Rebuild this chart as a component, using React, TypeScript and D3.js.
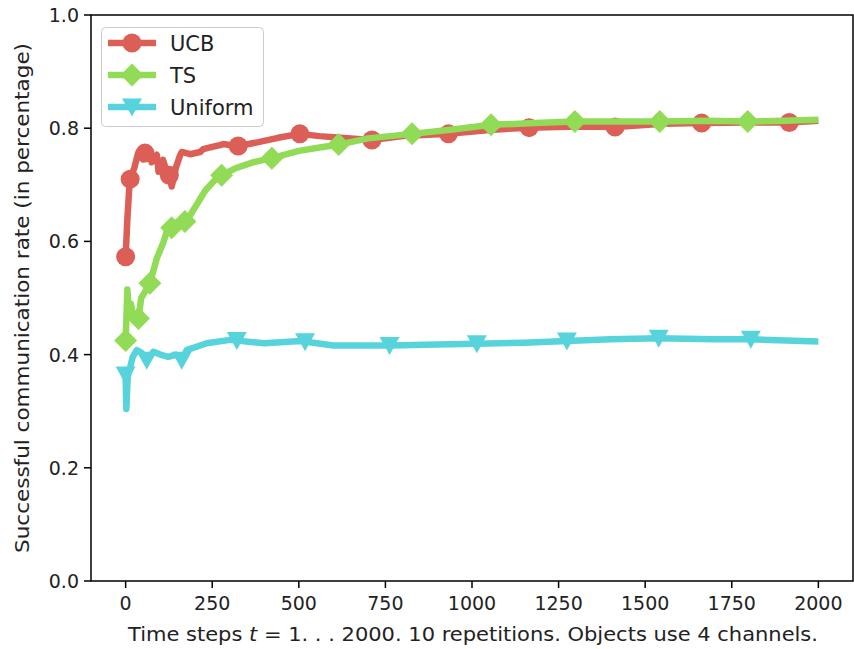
import React, { useEffect, useRef } from 'react';
import * as d3 from 'd3';

// time steps and mean success rate
const ucbSteps = [0, 5, 10, 13, 25, 36, 42, 50, 56, 61, 70, 75, 90, 95, 108, 120, 126, 133, 145, 157, 162, 186, 215, 224, 244, 272, 282, 321, 380, 440, 503, 560, 620, 711, 800, 932, 1050, 1165, 1300, 1413, 1550, 1663, 1800, 1916, 2000];
const ucbRate = [0.573, 0.64, 0.69, 0.71, 0.73, 0.756, 0.761, 0.745, 0.756, 0.758, 0.761, 0.74, 0.753, 0.723, 0.744, 0.72, 0.717, 0.697, 0.73, 0.752, 0.758, 0.754, 0.758, 0.763, 0.766, 0.77, 0.772, 0.768, 0.775, 0.783, 0.79, 0.786, 0.783, 0.779, 0.786, 0.79, 0.797, 0.801, 0.803, 0.802, 0.808, 0.809, 0.81, 0.81, 0.813];
const ucbMarks = [0, 13, 56, 126, 325, 503, 711, 932, 1165, 1413, 1663, 1916];

const tsSteps = [0, 5, 10, 15, 22, 30, 37, 45, 55, 70, 90, 110, 120, 133, 150, 171, 185, 200, 230, 260, 277, 320, 370, 422, 500, 560, 615, 700, 827, 950, 1055, 1180, 1297, 1420, 1542, 1680, 1796, 1900, 2000];
const tsRate = [0.425, 0.515, 0.47, 0.49, 0.465, 0.47, 0.464, 0.5, 0.51, 0.526, 0.57, 0.6, 0.62, 0.624, 0.63, 0.635, 0.645, 0.66, 0.69, 0.71, 0.717, 0.73, 0.74, 0.747, 0.76, 0.766, 0.771, 0.782, 0.79, 0.798, 0.806, 0.809, 0.812, 0.812, 0.812, 0.813, 0.812, 0.813, 0.815];
const tsMarks = [0, 37, 70, 133, 171, 277, 422, 615, 827, 1055, 1297, 1542, 1796];

const uniSteps = [0, 2, 6, 12, 20, 32, 46, 61, 80, 100, 123, 145, 162, 176, 234, 301, 400, 505, 600, 700, 762, 900, 1014, 1150, 1274, 1400, 1539, 1700, 1805, 2000];
const uniRate = [0.364, 0.304, 0.36, 0.375, 0.395, 0.408, 0.403, 0.39, 0.405, 0.4, 0.396, 0.4, 0.39, 0.408, 0.42, 0.426, 0.42, 0.424, 0.416, 0.416, 0.416, 0.418, 0.419, 0.421, 0.424, 0.427, 0.429, 0.427, 0.427, 0.423];
const uniMarks = [0, 61, 162, 321, 518, 762, 1014, 1274, 1539, 1805];

const xTicks = [0, 250, 500, 750, 1000, 1250, 1500, 1750, 2000];
const yTicks = [0, 0.2, 0.4, 0.6, 0.8, 1.0];

const W = 854;
const H = 649;
const margin = { left: 91, right: 1, top: 15, bottom: 68 };
const FONT = 'DejaVu Sans, sans-serif';
const FS = 20;

// marker shapes, centred on 0,0
const circle = 'M9.5,0A9.5,9.5 0 1,1 -9.5,0A9.5,9.5 0 1,1 9.5,0Z';
const diamond = 'M0,-11.5L11.5,0L0,11.5L-11.5,0Z';
const triDown = 'M0,9.5L-10,-8.5L10,-8.5Z';

const App = () => {
  const svgRef = useRef(null);

  useEffect(() => {
    const svg = d3.select(svgRef.current);
    svg.selectAll('*').remove();

    const x = d3.scaleLinear().domain([-100, 2100]).range([margin.left, W - margin.right]);
    const y = d3.scaleLinear().domain([0, 1]).range([H - margin.bottom, margin.top]);

    const series = [
      { name: 'UCB', steps: ucbSteps, rate: ucbRate, marks: ucbMarks, color: '#db5f57', shape: circle },
      { name: 'TS', steps: tsSteps, rate: tsRate, marks: tsMarks, color: '#91db57', shape: diamond },
      { name: 'Uniform', steps: uniSteps, rate: uniRate, marks: uniMarks, color: '#57d3db', shape: triDown },
    ];

    const line = d3
      .line()
      .x((d) => x(d[0]))
      .y((d) => y(d[1]));

    series.forEach((s) => {
      const pts = s.steps.map((t, i) => [t, s.rate[i]]);
      const interp = d3.scaleLinear().domain(s.steps).range(s.rate);
      svg
        .append('path')
        .attr('d', line(pts))
        .attr('fill', 'none')
        .attr('stroke', s.color)
        .attr('stroke-width', 6.5)
        .attr('stroke-linejoin', 'round');
      svg
        .selectAll(null)
        .data(s.marks)
        .enter()
        .append('path')
        .attr('d', s.shape)
        .attr('transform', (t) => `translate(${x(t)},${y(interp(t))})`)
        .attr('fill', s.color);
    });

    // frame
    const x0 = margin.left;
    const x1 = W - margin.right;
    const y0 = H - margin.bottom;
    const y1 = margin.top;
    svg
      .append('rect')
      .attr('x', x0)
      .attr('y', y1)
      .attr('width', x1 - x0)
      .attr('height', y0 - y1)
      .attr('fill', 'none')
      .attr('stroke', '#000')
      .attr('stroke-width', 1.5);

    // x ticks
    xTicks.forEach((t) => {
      svg.append('line').attr('x1', x(t)).attr('x2', x(t)).attr('y1', y0).attr('y2', y0 + 7).attr('stroke', '#000').attr('stroke-width', 1.5);
      svg
        .append('text')
        .attr('x', x(t))
        .attr('y', y0 + 29)
        .attr('text-anchor', 'middle')
        .attr('font-family', FONT)
        .attr('font-size', FS - 1)
        .attr('fill', '#222')
        .text(t);
    });

    // y ticks
    yTicks.forEach((v) => {
      svg.append('line').attr('x1', x0 - 7).attr('x2', x0).attr('y1', y(v)).attr('y2', y(v)).attr('stroke', '#000').attr('stroke-width', 1.5);
      svg
        .append('text')
        .attr('x', x0 - 12)
        .attr('y', y(v) + 7)
        .attr('text-anchor', 'end')
        .attr('font-family', FONT)
        .attr('font-size', FS - 1)
        .attr('fill', '#222')
        .text(v.toFixed(1));
    });

    // axis labels
    const xl = svg
      .append('text')
      .attr('x', 128)
      .attr('y', 641)
      .attr('textLength', 690)
      .attr('lengthAdjust', 'spacingAndGlyphs')
      .attr('font-family', FONT)
      .attr('font-size', FS)
      .attr('fill', '#222');
    xl.append('tspan').text('Time steps ');
    xl.append('tspan').attr('font-style', 'italic').text('t');
    xl.append('tspan').text(' = 1. . . 2000. 10 repetitions. Objects use 4 channels.');

    svg
      .append('text')
      .attr('transform', `translate(29,${(y0 + y1) / 2}) rotate(-90)`)
      .attr('text-anchor', 'middle')
      .attr('textLength', 510)
      .attr('lengthAdjust', 'spacingAndGlyphs')
      .attr('font-family', FONT)
      .attr('font-size', FS)
      .attr('fill', '#222')
      .text('Successful communication rate (in percentage)');

    // legend
    const lg = svg.append('g');
    lg.append('rect')
      .attr('x', 101.5)
      .attr('y', 27.5)
      .attr('width', 162)
      .attr('height', 99)
      .attr('rx', 4)
      .attr('fill', 'rgba(255,255,255,0.8)')
      .attr('stroke', '#cccccc')
      .attr('stroke-width', 1);
    series.forEach((s, i) => {
      const cy = 43 + i * 32;
      lg.append('line').attr('x1', 108).attr('x2', 156).attr('y1', cy).attr('y2', cy).attr('stroke', s.color).attr('stroke-width', 6.5);
      lg.append('path').attr('d', s.shape).attr('transform', `translate(132,${cy})`).attr('fill', s.color);
      lg.append('text')
        .attr('x', 170)
        .attr('y', cy + 8)
        .attr('font-family', FONT)
        .attr('font-size', FS + 1)
        .attr('fill', '#222')
        .text(s.name);
    });
  }, []);

  return <svg ref={svgRef} width={W} height={H} style={{ position: 'absolute', left: 0, top: 0, background: '#fff' }}></svg>;
};

export default App;
